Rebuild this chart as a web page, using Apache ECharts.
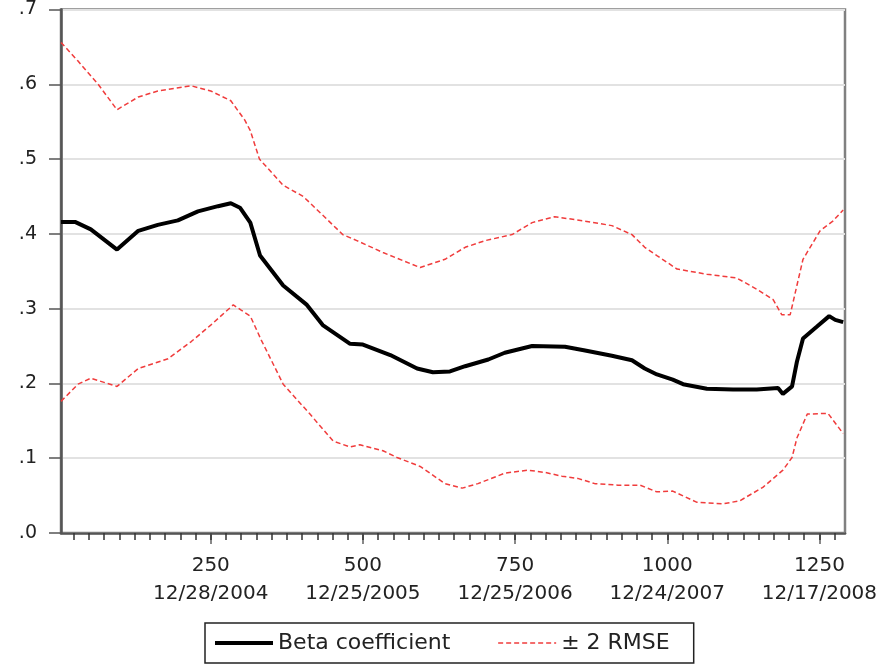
<!DOCTYPE html>
<html>
<head>
<meta charset="utf-8">
<script src="https://cdn.jsdelivr.net/npm/echarts@6/dist/echarts.min.js"></script>
<style>
  html, body { margin: 0; padding: 0; background: #fff; }
  #chart { width: 893px; height: 667px; }
</style>
</head>
<body>
<div id="chart"></div>
<script>
// Rolling beta estimate against observation index, with a +/- 2 RMSE band.
const betaCoefficient = [
  [4, .416], [27, .416], [53, .406], [96, .379], [131, .404], [163, .412],
  [196, .418], [229, .430], [262, .437], [283, .441], [298, .435], [315, .415],
  [331, .371], [369, .331], [408, .305], [434, .278], [479, .253], [500, .252],
  [545, .238], [589, .220], [615, .215], [643, .216], [668, .223], [706, .232],
  [733, .241], [778, .250], [832, .249], [865, .244], [909, .237], [942, .231],
  [963, .220], [983, .212], [1009, .205], [1026, .199], [1065, .193], [1108, .192],
  [1147, .192], [1182, .194], [1190, .186], [1205, .196], [1213, .229], [1223, .260],
  [1246, .276], [1266, .290], [1276, .285], [1289, .282]
];

const upperBand = [
  [4, .656], [32, .631], [65, .600], [96, .566], [131, .583], [163, .591],
  [218, .598], [250, .591], [283, .578], [306, .552], [315, .538], [330, .500],
  [369, .465], [402, .450], [425, .432], [467, .399], [490, .391], [533, .375],
  [594, .355], [635, .366], [643, .370], [668, .382], [701, .391], [745, .399],
  [778, .415], [815, .423], [865, .417], [909, .411], [942, .399], [963, .382],
  [983, .371], [1016, .353], [1065, .346], [1114, .341], [1147, .326], [1174, .312],
  [1188, .292], [1202, .292], [1213, .331], [1223, .366], [1251, .404], [1272, .417],
  [1289, .432]
];

const lowerBand = [
  [4, .176], [32, .199], [53, .207], [96, .196], [131, .220], [180, .233],
  [218, .256], [250, .278], [287, .305], [300, .298], [315, .290], [333, .258],
  [369, .199], [413, .159], [451, .123], [479, .115], [495, .118], [533, .110],
  [556, .101], [594, .089], [635, .066], [663, .060], [689, .066], [733, .080],
  [771, .084], [799, .081], [827, .076], [853, .073], [881, .066], [919, .064],
  [955, .064], [983, .055], [1009, .056], [1049, .041], [1091, .039], [1119, .043],
  [1157, .061], [1190, .084], [1205, .101], [1213, .127], [1230, .159], [1264, .160],
  [1289, .133]
];

// Labelled observation numbers and the dates they fall on.
const majorTicks = [250, 500, 750, 1000, 1250];
const tickDates = ['12/28/2004', '12/25/2005', '12/25/2006', '12/24/2007', '12/17/2008'];

const xMin = 4, xMax = 1292;
const minorTicks = [];
for (let v = 25; v < xMax; v += 25) minorTicks.push(v);

const FONT = 'DejaVu Sans';
const BAND_RED = '#f03c3c';
const noMarker = { color: 'rgba(0,0,0,0)', borderWidth: 0 };

const chart = echarts.init(document.getElementById('chart'), null, { renderer: 'canvas' });

chart.setOption({
  animation: false,
  backgroundColor: '#fff',
  grid: {
    left: 61, right: 48, top: 5, bottom: 134,
    show: true, borderColor: '#808080', borderWidth: 2.5, backgroundColor: '#fff'
  },
  xAxis: [
    {
      type: 'value', min: xMin, max: xMax, position: 'bottom',
      axisLine: { show: true, onZero: false, lineStyle: { color: '#555', width: 2.5 } },
      axisTick: { show: true, customValues: majorTicks, length: 11, lineStyle: { color: '#888', width: 2 } },
      axisLabel: {
        customValues: majorTicks, margin: 19, fontSize: 20, lineHeight: 28,
        fontFamily: FONT, color: '#222',
        formatter: v => v + '\n' + tickDates[majorTicks.indexOf(v)]
      },
      splitLine: { show: false }
    },
    {
      type: 'value', min: xMin, max: xMax, position: 'bottom',
      axisLine: { show: false },
      axisTick: { show: true, customValues: minorTicks, length: 7, lineStyle: { color: '#333', width: 1.5 } },
      axisLabel: { show: false },
      splitLine: { show: false }
    }
  ],
  yAxis: {
    type: 'value', min: 0, max: 0.7, interval: 0.1,
    axisLine: { show: true, lineStyle: { color: '#555', width: 2.5 } },
    axisTick: { show: true, length: 12, lineStyle: { color: '#555', width: 1.5 } },
    axisLabel: {
      margin: 24, fontSize: 19, fontFamily: FONT, color: '#222',
      formatter: v => v.toFixed(1).replace(/^0/, '')
    },
    splitLine: { show: true, lineStyle: { color: '#e2e2e2', width: 2 } }
  },
  legend: {
    data: [
      { name: 'Beta coefficient', lineStyle: { width: 4, color: '#000' } },
      { name: '± 2 RMSE', lineStyle: { width: 1.5, color: BAND_RED, type: [5, 3] } }
    ],
    left: 205, top: 623,
    itemWidth: 58, itemHeight: 14, itemGap: 47,
    padding: [9, 24, 9, 8],
    borderColor: '#222', borderWidth: 1.5,
    textStyle: { fontSize: 22, fontFamily: FONT, color: '#222' }
  },
  series: [
    {
      name: '± 2 RMSE', type: 'line', data: upperBand, xAxisIndex: 0,
      symbol: 'none', z: 2, itemStyle: noMarker,
      lineStyle: { color: BAND_RED, width: 1.5, type: [5, 3] }
    },
    {
      name: '± 2 RMSE', type: 'line', data: lowerBand, xAxisIndex: 0,
      symbol: 'none', z: 2, itemStyle: noMarker,
      lineStyle: { color: BAND_RED, width: 1.5, type: [5, 3] }
    },
    {
      name: 'Beta coefficient', type: 'line', data: betaCoefficient, xAxisIndex: 0,
      symbol: 'none', z: 3, itemStyle: noMarker,
      lineStyle: { color: '#000', width: 4 }
    }
  ]
});
</script>
</body>
</html>
